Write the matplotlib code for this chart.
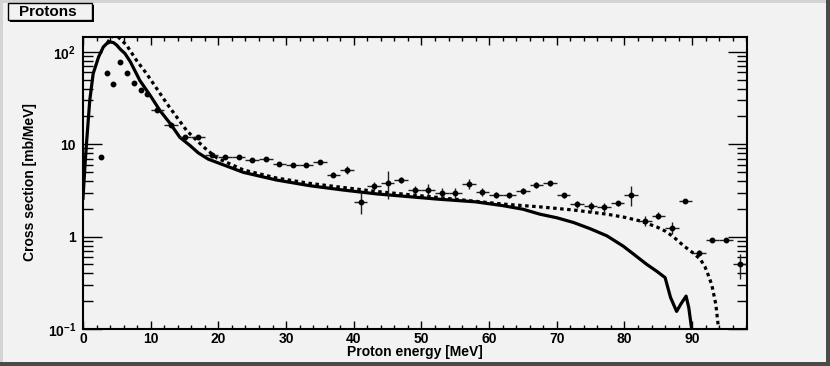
import numpy as np
import matplotlib.pyplot as plt
from matplotlib.patches import Rectangle
from matplotlib.ticker import FixedLocator, FixedFormatter, LogLocator, NullFormatter, MultipleLocator

plt.rcParams['font.family'] = ['Liberation Sans', 'DejaVu Sans']
plt.rcParams['font.weight'] = 'bold'
plt.rcParams['mathtext.fontset'] = 'custom'
plt.rcParams['mathtext.rm'] = 'Liberation Sans:bold'
plt.rcParams['mathtext.bf'] = 'Liberation Sans:bold'

# measured spectrum
e_data = [2.7, 3.5, 4.5, 5.5, 6.5, 7.5, 8.5, 9.5, 11, 13, 15, 17,
          19, 21, 23, 25, 27, 29, 31, 33, 35, 37, 39, 41, 43, 45, 47, 49,
          51, 53, 55, 57, 59, 61, 63, 65, 67, 69, 71, 73, 75, 77, 79, 81,
          83, 85, 87, 89, 91, 93, 95, 97]
y_data = [7.2, 59, 45, 78, 59, 46, 39, 35, 23.2, 16.3, 11.9, 11.9,
          7.7, 7.3, 7.3, 6.7, 6.9, 6.1, 5.9, 5.9, 6.5, 4.7, 5.3, 2.4, 3.56, 3.84, 4.1, 3.22,
          3.22, 2.97, 3.0, 3.72, 3.06, 2.84, 2.82, 3.14, 3.65, 3.77, 2.82, 2.25, 2.12, 2.07, 2.29, 2.84,
          1.48, 1.69, 1.25, 2.44, 0.67, 0.92, 0.92, 0.5]
x_half = [0, 0, 0, 0, 0, 0, 0, 0, 1, 1, 1, 1,
          1, 1, 1, 1, 1, 1, 1, 1, 1, 1, 1, 1, 1, 1, 1, 1,
          1, 1, 1, 1, 1, 1, 1, 1, 1, 1, 1, 1, 1, 1, 1, 1,
          1, 1, 1, 1, 1, 1, 1, 1]
y_rel = [0, 0, 0, 0, 0, 0, 0, 0, 0, 0, 0, 0,
         0.03, 0.03, 0.03, 0.03, 0.03, 0.04, 0.04, 0.04, 0.04, 0.07, 0.11, 0.27, 0.10, 0.33, 0.07, 0.10,
         0.15, 0.12, 0.13, 0.12, 0.11, 0.08, 0.06, 0.08, 0.07, 0.06, 0.06, 0.09, 0.12, 0.11, 0.07, 0.25,
         0.13, 0.08, 0.15, 0.03, 0.08, 0.03, 0.03, 0.30]

# model 1 (solid)
e_solid = [0, 0.3, 0.55, 1.0, 1.5, 2.3, 3.0, 3.5, 4.0, 4.5, 5.0, 5.5, 6.2, 7.0, 8.4, 9.9, 11.4,
           12.9, 14.3, 15.8, 17.0, 18.5, 23.7, 28.6, 33.5, 38.5, 43.4, 52.3, 58.0, 62.1, 65.0,
           67.5, 70.0, 72.5, 74.9, 77.4, 79.8, 81.3, 83.3, 84.8, 86.0, 86.8, 87.7, 88.4, 89.1,
           89.5, 90.1]
y_solid = [2.6, 6.0, 11, 30, 58, 88, 113, 123, 128, 126, 118, 107, 96, 78, 49, 34, 23,
           16.7, 11.9, 9.7, 8.1, 6.9, 4.96, 4.1, 3.56, 3.19, 2.9, 2.55, 2.38, 2.16, 1.98,
           1.75, 1.6, 1.42, 1.22, 1.02, 0.79, 0.65, 0.5, 0.42, 0.36, 0.22, 0.155, 0.19, 0.227,
           0.17, 0.08]

# model 2 (dotted)
e_dot = [3.6, 4.1, 4.6, 5.2, 6.45, 7.9, 9.4, 10.9, 12.4, 13.85, 15.3, 16.8, 18.3, 19.8, 23.7,
         28.6, 33.5, 38.5, 43.4, 52.3, 62.1, 67.5, 72.5, 77.4, 80.0, 82.3, 84.8, 86.0, 87.2,
         88.7, 90.2, 91.2, 91.9, 92.4, 92.9, 93.5, 93.9, 94.1]
y_dot = [125, 143, 150, 145, 118, 81, 58, 40, 27.5, 19.7, 14.1, 11, 8.7, 7.1, 5.27,
         4.31, 3.77, 3.4, 3.08, 2.66, 2.25, 2.1, 1.94, 1.75, 1.62, 1.48, 1.27, 1.15, 1.0,
         0.8, 0.66, 0.57, 0.47, 0.38, 0.3, 0.184, 0.10, 0.08]

bg = '#f2f2f2'
fig = plt.figure(figsize=(8.3, 3.66), dpi=100)
fig.patch.set_facecolor(bg)

# bevelled canvas border
W, H = 830.0, 366.0
for (x0, y0, w, h, c) in [(0, 0, 3, H, '#d4d4d4'), (0, H - 3, W, 3, '#d4d4d4'),
                          (0, 0, W, 4, '#4a4a4a'), (W - 4, 0, 4, H, '#4a4a4a')]:
    fig.add_artist(Rectangle((x0 / W, y0 / H), w / W, h / H, transform=fig.transFigure,
                             facecolor=c, edgecolor='none'))

# title box with shadow
fig.add_artist(Rectangle((10 / W, 1 - 22 / H), 84 / W, 17 / H, transform=fig.transFigure,
                         facecolor='black', edgecolor='none'))
fig.add_artist(Rectangle((8 / W, 1 - 20 / H), 84 / W, 17 / H, transform=fig.transFigure,
                         facecolor=bg, edgecolor='black', linewidth=1))
fig.text(48 / W, 1 - 11.5 / H, 'Protons', ha='center', va='center', fontsize=11, fontweight='bold')

ax = fig.add_axes([83 / W, 1 - 329 / H, 664 / W, 292.3 / H])
ax.set_facecolor(bg)

y_data = np.array(y_data)
y_err = y_data * np.array(y_rel)
ax.errorbar(e_data, y_data, xerr=x_half, yerr=y_err, fmt='o', color='black', ecolor='#202020',
            markersize=3.2, elinewidth=1.0, capsize=0, zorder=3)
ax.plot(e_solid, y_solid, color='black', linewidth=2.3, zorder=2)
ax.plot(e_dot, y_dot, color='black', linewidth=2.3, linestyle=(0, (1.1, 1.1)), zorder=2)

ax.set_yscale('log')
ax.set_xlim(0, 98.1)
ax.set_ylim(0.1, 146)

ax.xaxis.set_major_locator(MultipleLocator(10))
ax.xaxis.set_minor_locator(MultipleLocator(2))
ax.yaxis.set_major_locator(FixedLocator([0.1, 1, 10, 100]))
ax.yaxis.set_major_formatter(FixedFormatter([r'$10^{-1}$', '1', '10', r'$10^{2}$']))
ax.yaxis.set_minor_locator(LogLocator(base=10, subs=np.arange(2, 10)))
ax.yaxis.set_minor_formatter(NullFormatter())

ax.tick_params(axis='x', which='major', direction='in', length=6, width=1.0, top=True,
               labelsize=10, pad=2)
ax.tick_params(axis='x', which='minor', direction='in', length=3, width=1.0, top=True)
ax.tick_params(axis='y', which='major', direction='in', length=14, width=1.0, right=True,
               labelsize=10, pad=5)
ax.tick_params(axis='y', which='minor', direction='in', length=7, width=1.0, right=True)
for s in ax.spines.values():
    s.set_linewidth(1.5)

for lab in ax.get_xticklabels() + ax.get_yticklabels():
    lab.set_fontweight('bold')

fig.text(415 / W, 1 - 352 / H, 'Proton energy [MeV]', ha='center', va='center',
         fontsize=10, fontweight='bold')
fig.text(30 / W, 1 - 182 / H, 'Cross section [mb/MeV]', ha='center', va='center',
         rotation=90, fontsize=10, fontweight='bold')

fig.savefig('out.png', dpi=100, facecolor=bg)
